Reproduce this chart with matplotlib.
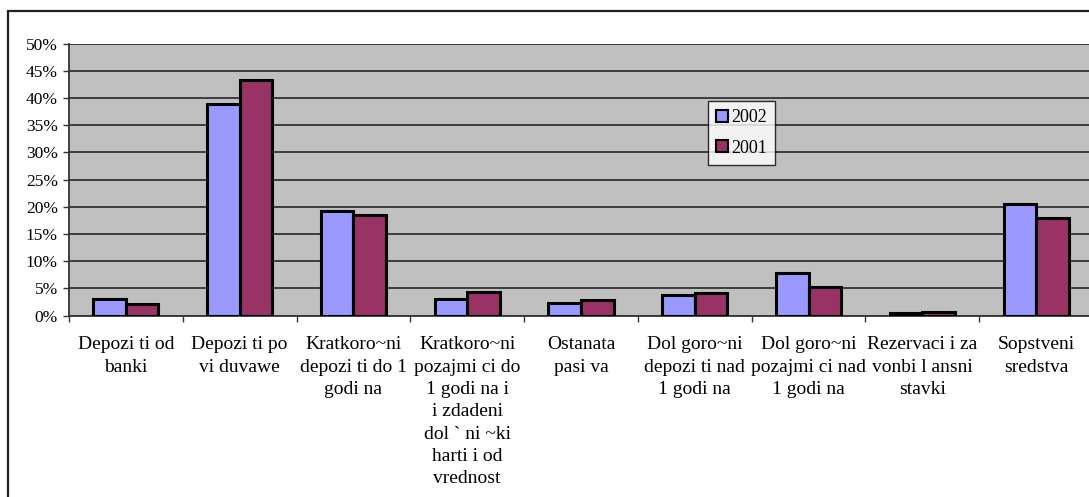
import numpy as np
import matplotlib.pyplot as plt
from matplotlib.patches import Rectangle

# category labels (as shown, in the old Macedonian font encoding)
categories = [
    "Depozi ti od\nbanki",
    "Depozi ti po\nvi duvawe",
    "Kratkoro~ni\ndepozi ti do 1\ngodi na",
    "Kratkoro~ni\npozajmi ci do\n1 godi na i\ni zdadeni\ndol ` ni ~ki\nharti i od\nvrednost",
    "Ostanata\npasi va",
    "Dol goro~ni\ndepozi ti nad\n1 godi na",
    "Dol goro~ni\npozajmi ci nad\n1 godi na",
    "Rezervaci i za\nvonbi l ansni\nstavki",
    "Sopstveni\nsredstva",
]
share_2002 = [3.0, 38.8, 19.2, 3.0, 2.35, 3.7, 7.9, 0.45, 20.5]
share_2001 = [2.05, 43.2, 18.5, 4.3, 2.8, 4.1, 5.2, 0.7, 18.0]
ytick_vals = [0, 5, 10, 15, 20, 25, 30, 35, 40, 45, 50]

plt.rcParams['font.family'] = ['Liberation Serif', 'DejaVu Serif']

fig = plt.figure(figsize=(10.89, 4.97), dpi=100)

# outer chart border (right/bottom run off the picture)
fig.patches.append(Rectangle((7.5/1089, -0.1), 1.2, 1 - 10.7/497 + 0.1,
                             transform=fig.transFigure, fill=False,
                             edgecolor='#222222', linewidth=1.6))

ax = fig.add_axes([69/1089, 1 - 315.5/497, 1024/1089, 272/497])
ax.set_facecolor('#C0C0C0')

x = np.arange(len(categories))
w = 1 / 3.5
ax.bar(x - w/2, share_2002, w, color='#9999FF', edgecolor='black', linewidth=2.2, label='2002', zorder=3)
ax.bar(x + w/2, share_2001, w, color='#993366', edgecolor='black', linewidth=2.2, label='2001', zorder=3)

ax.set_xlim(-0.5, len(categories) - 0.5)
ax.set_ylim(0, 50)
ax.set_yticks(ytick_vals)
ax.set_yticklabels([f"{v}%" for v in ytick_vals], fontsize=12.5)
ax.yaxis.grid(True, color='#333333', linewidth=1.3, zorder=1)
ax.set_axisbelow(True)

ax.set_xticks(x)
ax.set_xticklabels(categories, fontsize=14, linespacing=1.41)
ax.set_xticks(np.arange(len(categories) + 1) - 0.5, minor=True)
ax.tick_params(axis='x', which='major', length=0, pad=15)
ax.tick_params(axis='x', which='minor', length=4, width=1, color='#333333')
ax.tick_params(axis='y', length=4, width=1, color='#333333', pad=4)

for s in ['top', 'right']:
    ax.spines[s].set_visible(False)
ax.spines['left'].set_color('#333333')
ax.spines['bottom'].set_color('#333333')
ax.spines['left'].set_linewidth(1.3)
ax.spines['bottom'].set_linewidth(1.3)

leg = ax.legend(loc='upper left', bbox_to_anchor=(708/1089, 1 - 101/497),
                bbox_transform=fig.transFigure, fontsize=13, frameon=True,
                fancybox=False, handlelength=0.65, handleheight=0.65,
                handletextpad=0.2, borderpad=0.45, labelspacing=0.75,
                borderaxespad=0)
leg.get_frame().set_edgecolor('black')
leg.get_frame().set_linewidth(1)
for h in leg.legend_handles:
    h.set_linewidth(1.5)

plt.savefig("out.png", dpi=100)
